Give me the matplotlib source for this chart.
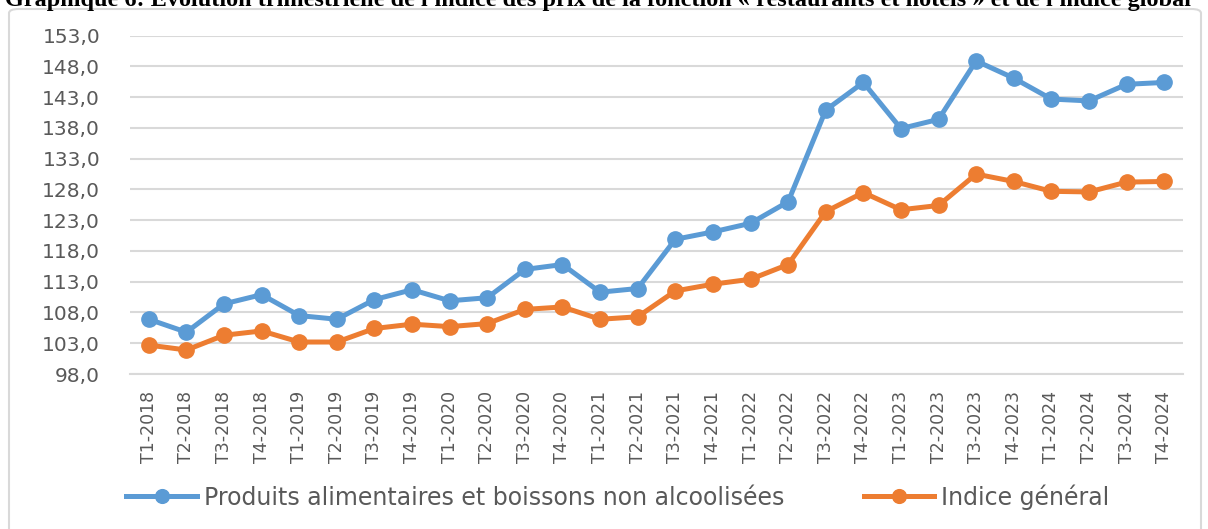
import matplotlib
matplotlib.use("Agg")
import matplotlib.pyplot as plt
from matplotlib.patches import FancyBboxPatch

quarters = ["T1-2018", "T2-2018", "T3-2018", "T4-2018",
            "T1-2019", "T2-2019", "T3-2019", "T4-2019",
            "T1-2020", "T2-2020", "T3-2020", "T4-2020",
            "T1-2021", "T2-2021", "T3-2021", "T4-2021",
            "T1-2022", "T2-2022", "T3-2022", "T4-2022",
            "T1-2023", "T2-2023", "T3-2023", "T4-2023",
            "T1-2024", "T2-2024", "T3-2024", "T4-2024"]

alimentaires = [106.9, 104.8, 109.4, 110.9, 107.5, 106.9, 110.1, 111.7,
                109.9, 110.4, 115.0, 115.8, 111.3, 111.9, 119.9, 121.1,
                122.5, 126.0, 140.9, 145.4, 137.9, 139.4, 148.9, 146.1,
                142.7, 142.4, 145.1, 145.4]

general = [102.7, 101.9, 104.3, 105.0, 103.2, 103.2, 105.4, 106.1,
           105.7, 106.2, 108.5, 108.9, 106.9, 107.3, 111.5, 112.6,
           113.4, 115.8, 124.4, 127.5, 124.7, 125.4, 130.5, 129.3,
           127.7, 127.6, 129.2, 129.3]

yticks = [98, 103, 108, 113, 118, 123, 128, 133, 138, 143, 148, 153]

blue = '#5B9BD5'
orange = '#ED7D31'
grid = '#D9D9D9'
txt = '#595959'

W, H = 1208, 529
fig = plt.figure(figsize=(W/100, H/100), dpi=100)

# outer frame of the chart box
box = FancyBboxPatch((9/W, -0.05), (1201-9)/W, 1 - 9/H + 0.05,
                     boxstyle='round,pad=0,rounding_size=0.008',
                     transform=fig.transFigure, fill=False,
                     edgecolor=grid, lw=1.5)
fig.patches.append(box)

# title, cut by the top edge as in the source
fig.text(5/W, 1 - 6/H,
         "Graphique 6: Évolution trimestrielle de l'indice des prix de la fonction "
         "« restaurants et hôtels » et de l'indice global",
         family='Liberation Serif', weight='bold', fontsize=17.5,
         ha='left', va='baseline', color='black')

ax = fig.add_axes([130/W, 1 - 374/H, (1183-130)/W, (374-35.7)/H])

x = range(len(quarters))
ax.plot(x, alimentaires, color=blue, lw=3.6, marker='o', ms=11,
        label='Produits alimentaires et boissons non alcoolisées', zorder=3)
ax.plot(x, general, color=orange, lw=3.6, marker='o', ms=11,
        label='Indice général', zorder=3)

ax.set_xlim(-0.5, len(quarters) - 0.5)
ax.set_ylim(98, 153)
ax.set_yticks(yticks)
ax.set_yticklabels([f"{v:.1f}".replace('.', ',') for v in yticks],
                   fontsize=14.5, color=txt)
ax.set_xticks(list(x))
ax.set_xticklabels(quarters, rotation=90, fontsize=12.5, color=txt)
ax.tick_params(axis='both', length=0)
ax.tick_params(axis='y', pad=21.5)
ax.tick_params(axis='x', pad=12)

ax.grid(axis='y', color=grid, lw=1.5)
ax.set_axisbelow(True)
for s in ['top', 'right', 'left']:
    ax.spines[s].set_visible(False)
ax.spines['bottom'].set_color(grid)
ax.spines['bottom'].set_linewidth(1.5)

handles, labels = ax.get_legend_handles_labels()
fig.legend(handles, labels, loc='center', bbox_to_anchor=(618/W, 1 - 497/H),
           ncol=2, frameon=False, fontsize=17, handlelength=2.97,
           handletextpad=0.3, columnspacing=3.39, markerscale=0.9,
           labelcolor=txt, borderpad=0)

fig.savefig('out.png', dpi=100)
